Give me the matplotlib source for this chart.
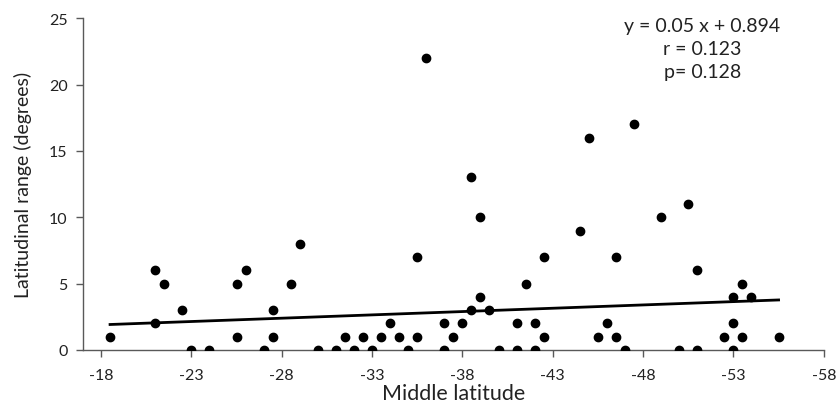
import numpy as np
import matplotlib
matplotlib.use('Agg')
import matplotlib.pyplot as plt

plt.rcParams['font.family'] = ['Lato', 'DejaVu Sans']
plt.rcParams['axes.unicode_minus'] = False

# middle latitude (deg) and latitudinal range (deg) of each species
mid_lat = [-18.5, -21, -21, -21.5, -22.5, -23, -24, -25.5, -25.5, -26,
           -27, -27.5, -27.5, -28.5, -29, -30, -31, -31.5, -32, -32.5,
           -33, -33.5, -34, -34.5, -35, -35.5, -35.5, -36, -37, -37,
           -37.5, -38, -38.5, -38.5, -39, -39, -39.5, -40, -41, -41,
           -41.5, -42, -42, -42.5, -42.5, -44.5, -45, -45.5, -46, -46.5,
           -46.5, -47, -47.5, -49, -50, -50.5, -51, -51, -52.5, -53,
           -53, -53, -53.5, -53.5, -54, -55.5]
lat_range = [1, 6, 2, 5, 3, 0, 0, 5, 1, 6,
             0, 3, 1, 5, 8, 0, 0, 1, 0, 1,
             0, 1, 2, 1, 0, 7, 1, 22, 2, 0,
             1, 2, 13, 3, 10, 4, 3, 0, 2, 0,
             5, 2, 0, 7, 1, 9, 16, 1, 2, 7,
             1, 0, 17, 10, 0, 11, 6, 0, 1, 4,
             2, 0, 5, 1, 4, 1]

# trendline as reported on the chart (on absolute latitude)
slope, intercept = 0.05, 0.894
stats_text = 'y = 0.05 x + 0.894\nr = 0.123\np= 0.128'

xticks = [-18, -23, -28, -33, -38, -43, -48, -53, -58]

fig = plt.figure(figsize=(8.38, 4.10), dpi=100)
ax = fig.add_axes([0.099, 0.144, 0.884, 0.809])

x = np.array(mid_lat)
y = np.array(lat_range)
ax.plot(x, y, 'o', color='black', ms=6, zorder=3)

xl = np.array([x.max(), x.min()])
ax.plot(xl, slope * np.abs(xl) + intercept + 0.1, color='black', lw=2, zorder=2)

ax.set_xlim(-17, -58)
ax.set_ylim(0, 25)
ax.set_xticks(xticks)
ax.set_yticks(range(0, 26, 5))

for s in ['top', 'right']:
    ax.spines[s].set_visible(False)
for s in ['left', 'bottom']:
    ax.spines[s].set_color('#595959')
    ax.spines[s].set_linewidth(1)
ax.tick_params(axis='both', colors='#595959', labelcolor='#222222',
               labelsize=11.5, length=5, width=1)
ax.tick_params(axis='x', pad=8)
ax.tick_params(axis='y', pad=6)

ax.set_xlabel('Middle latitude', fontsize=15.5, labelpad=1, color='#222222')
ax.set_ylabel('Latitudinal range (degrees)', fontsize=14, labelpad=12,
              color='#222222')

ax.text(0.836, 1.005, stats_text, transform=ax.transAxes, ha='center',
        va='top', fontsize=14, linespacing=1.45, color='#222222')

fig.savefig('out.png', dpi=100)
